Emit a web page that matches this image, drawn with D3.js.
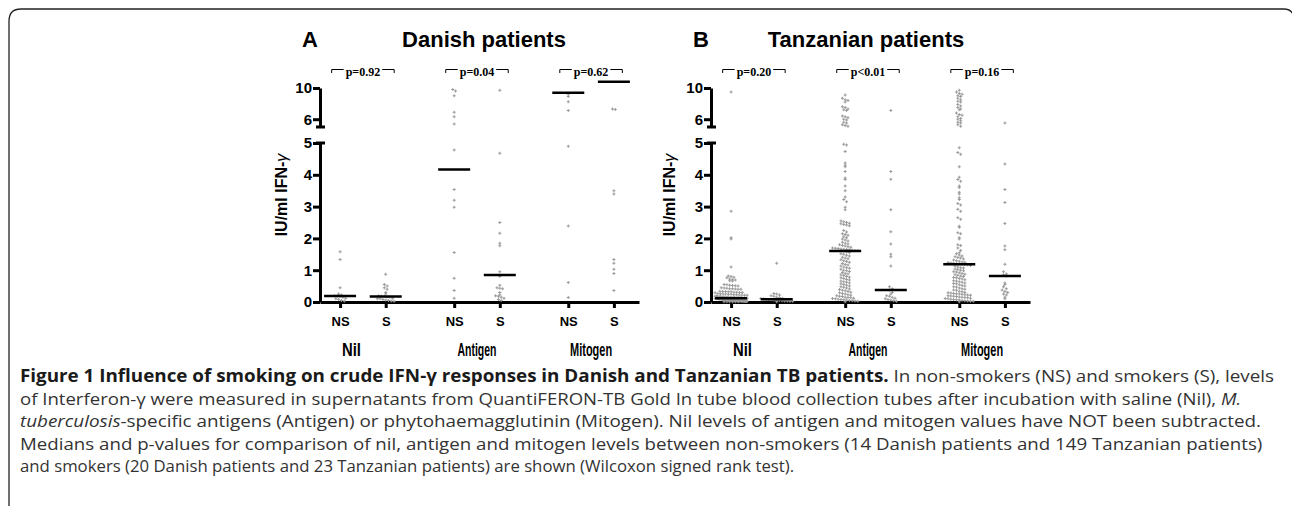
<!DOCTYPE html>
<html>
<head>
<meta charset="utf-8">
<script src="https://cdn.jsdelivr.net/npm/d3@7"></script>
<style>
  body { margin: 0; background: #fff; }
  svg { display: block; }
</style>
</head>
<body>
<svg id="fig" width="1292" height="506"></svg>
<script>
// ---- data ----
const groups = ["Nil", "Antigen", "Mitogen"];
const smokerLabels = ["NS", "S", "NS", "S", "NS", "S"];
const yTicksLow = [0, 1, 2, 3, 4, 5];
const yTicksHigh = [6, 10];
const pValuesDK = ["p=0.92", "p=0.04", "p=0.62"];
const pValuesTZ = ["p=0.20", "p<0.01", "p=0.16"];
const mediansDK = [0.19, 0.17, 4.17, 0.85, 9.4, 10.8];
const mediansTZ = [0.12, 0.09, 1.6, 0.38, 1.19, 0.82];

const dkNilNS = [1.58, 1.34, 0.45, 0.25, 0.22, 0.2, 0.19, 0.17, 0.15, 0.12, 0.1, 0.08, 0.05, 0.03];
const dkNilS = [0.87, 0.55, 0.5, 0.45, 0.4, 0.3, 0.25, 0.2, 0.18, 0.17, 0.16, 0.15, 0.12, 0.1, 0.1, 0.08, 0.06, 0.05, 0.03, 0.02];
const dkAgNS = [9.8, 9.6, 9.0, 6.9, 6.3, 5.4, 4.78, 3.54, 3.2, 2.98, 1.56, 0.75, 0.36, 0.12];
const dkAgS = [9.7, 4.68, 2.5, 2.16, 1.85, 1.77, 0.95, 0.8, 0.53, 0.45, 0.43, 0.42, 0.3, 0.22, 0.2, 0.18, 0.15, 0.12, 0.08, 0.05];
const dkMitNS = [9.2, 8.9, 8.25, 7.1, 4.9, 2.39, 0.61, 0.14];
const dkMitS = [7.3, 7.25, 3.5, 3.4, 1.34, 1.22, 1.03, 0.9, 0.36];

const tzNilNS = [9.5, 2.85, 2.02, 1.98, 1.1, 0.82, 0.8, 0.78, 0.76, 0.72, 0.7, 0.69, 0.67, 0.66,
  0.55, 0.54, 0.53, 0.52, 0.51, 0.5, 0.45, 0.44, 0.43, 0.42, 0.42, 0.41, 0.4, 0.4,
  0.34, 0.33, 0.33, 0.32, 0.32, 0.31, 0.31, 0.3, 0.3, 0.29, 0.26, 0.26, 0.25, 0.25, 0.24, 0.24,
  0.23, 0.23, 0.22, 0.22, 0.21, 0.21, 0.18, 0.18, 0.17, 0.17, 0.17, 0.16, 0.16, 0.16, 0.15, 0.15,
  0.15, 0.14, 0.14, 0.14, 0.14, 0.13, 0.13, 0.13, 0.13, 0.13, 0.12, 0.12, 0.12, 0.12,
  0.11, 0.11, 0.11, 0.11, 0.11, 0.11, 0.11, 0.1, 0.1, 0.1, 0.1, 0.1, 0.1, 0.1,
  0.09, 0.09, 0.09, 0.09, 0.09, 0.09, 0.09, 0.08, 0.08, 0.08, 0.08, 0.08, 0.08, 0.08,
  0.07, 0.07, 0.07, 0.07, 0.07, 0.07, 0.07, 0.06, 0.06, 0.06, 0.06, 0.06, 0.06, 0.06,
  0.05, 0.05, 0.05, 0.05, 0.05, 0.05, 0.05, 0.04, 0.04, 0.04, 0.04, 0.04, 0.04, 0.04,
  0.03, 0.03, 0.03, 0.03, 0.03, 0.03, 0.03, 0.02, 0.02, 0.02, 0.02, 0.02, 0.02,
  0.01, 0.01, 0.01, 0.01, 0.01, 0.01];
const tzNilS = [1.22, 0.27, 0.25, 0.22, 0.2, 0.18, 0.15, 0.13, 0.12, 0.11, 0.1, 0.09, 0.08, 0.07, 0.06, 0.05, 0.05, 0.04, 0.03, 0.03, 0.02, 0.02, 0.01];
const tzAgNS = [9.1, 8.7, 8.5, 8.4, 8.2, 7.6, 7.5, 7.3, 7.2, 7.1, 6.4, 6.3, 6.2, 6.0, 5.9, 5.6, 5.5, 5.3, 5.2, 5.1,
  4.96, 4.94, 4.73, 4.37, 4.3, 4.25, 4.1, 3.9, 3.85, 3.65, 3.5, 3.3, 3.22, 3.15, 2.98, 2.9,
  2.55, 2.52, 2.5, 2.48, 2.46, 2.44, 2.42, 2.4, 2.25, 2.2, 2.15, 2.12, 2.1, 2.05, 2.02,
  1.98, 1.95, 1.92, 1.88, 1.85, 1.82, 1.8, 1.78, 1.76, 1.74, 1.72, 1.7, 1.69, 1.68, 1.67,
  1.66, 1.65, 1.64, 1.63, 1.62, 1.62, 1.61, 1.6,
  1.58, 1.56, 1.52, 1.5, 1.47, 1.45, 1.41, 1.38, 1.36, 1.33, 1.3, 1.27, 1.25, 1.21, 1.18,
  1.16, 1.13, 1.1, 1.08, 1.06, 1.03, 1.0, 0.98, 0.96, 0.93, 0.9, 0.88, 0.86, 0.83, 0.8,
  0.78, 0.76, 0.74, 0.71, 0.69, 0.66, 0.64, 0.62, 0.6, 0.57, 0.55, 0.53, 0.5, 0.48, 0.46,
  0.44, 0.41, 0.39, 0.37, 0.35, 0.33, 0.31, 0.29, 0.27, 0.25, 0.23, 0.21, 0.2, 0.18, 0.17,
  0.15, 0.14, 0.13, 0.12, 0.11, 0.1, 0.09, 0.08, 0.07, 0.06, 0.05, 0.04, 0.03, 0.02, 0.01];
const tzAgS = [7.1, 4.1, 3.86, 2.9, 2.21, 1.82, 1.5, 1.42, 1.13, 0.48, 0.42, 0.38, 0.3, 0.25, 0.2, 0.18, 0.15, 0.12, 0.1, 0.08, 0.06, 0.04, 0.02];
const tzMitNS = [9.7, 9.5, 9.3, 9.2, 9.0, 8.9, 8.7, 8.5, 8.3, 8.2, 7.9, 7.7, 7.5, 7.3, 7.2, 6.8, 6.6,
  6.5, 6.3, 6.1, 6.0, 5.8, 5.6, 5.5, 5.3, 5.1,
  4.85, 4.7, 4.65, 4.25, 3.92, 3.85, 3.8, 3.65, 3.6, 3.45, 3.4, 3.28, 3.22, 3.1, 3.05, 2.92,
  2.85, 2.65, 2.6, 2.38, 2.35, 2.18, 2.15, 2.02, 1.98, 1.8, 1.78, 1.7, 1.62, 1.55, 1.52, 1.48,
  1.45, 1.42, 1.4, 1.38, 1.35, 1.32, 1.3, 1.28, 1.26, 1.25, 1.24, 1.23, 1.22, 1.21, 1.2, 1.19,
  1.18, 1.17, 1.15, 1.13, 1.1, 1.08, 1.07, 1.04, 1.02, 1.0, 0.98, 0.95, 0.94, 0.92, 0.9,
  0.87, 0.86, 0.84, 0.82, 0.8, 0.77, 0.76, 0.74, 0.72, 0.7, 0.67, 0.66, 0.64, 0.62, 0.6,
  0.58, 0.57, 0.54, 0.52, 0.5, 0.48, 0.47, 0.44, 0.42, 0.4, 0.38, 0.37, 0.34, 0.32, 0.3,
  0.29, 0.28, 0.27, 0.26, 0.25, 0.24, 0.23, 0.22, 0.21, 0.2, 0.19, 0.18, 0.17, 0.16, 0.15,
  0.14, 0.13, 0.12, 0.11, 0.1, 0.09, 0.08, 0.07, 0.06, 0.05, 0.04, 0.03, 0.02, 0.02, 0.01];
const tzMitS = [5.5, 4.34, 3.54, 3.13, 2.47, 1.76, 1.64, 1.19, 0.95, 0.88, 0.85, 0.82, 0.6, 0.55, 0.48, 0.42, 0.38, 0.33, 0.3, 0.25, 0.22, 0.15, 0.1];

const captionLines = [
  [["Figure 1 Influence of smoking on crude IFN-γ responses in Danish and Tanzanian TB patients.", "b"], [" In non-smokers (NS) and smokers (S), levels", ""]],
  [["of Interferon-γ were measured in supernatants from QuantiFERON-TB Gold In tube blood collection tubes after incubation with saline (Nil), ", ""], ["M.", "i"]],
  [["tuberculosis", "i"], ["-specific antigens (Antigen) or phytohaemagglutinin (Mitogen). Nil levels of antigen and mitogen values have NOT been subtracted.", ""]],
  [["Medians and p-values for comparison of nil, antigen and mitogen levels between non-smokers (14 Danish patients and 149 Tanzanian patients)", ""]],
  [["and smokers (20 Danish patients and 23 Tanzanian patients) are shown (Wilcoxon signed rank test).", ""]]
];

// ---- drawing ----
const svg = d3.select("#fig");
const sans = "'Liberation Sans', Arial, sans-serif";
const colPos = [0, 1, 2.5, 3.5, 5, 6];
const groupMid = [0.5, 3, 5.5];
const groupLabelAt = [0.25, 3, 5.5];

// frame
svg.append("path")
  .attr("d", "M9,506 V21 Q9,9 21,9 H1284 Q1292,9 1294,17")
  .attr("fill", "none").attr("stroke", "#222").attr("stroke-width", 1.3);

const yLow = d3.scaleLinear().domain([0, 5]).range([302, 143]);
const yHigh = d3.scaleLinear().domain([5, 10]).range([127, 88]);
const yVal = v => (v <= 5 ? yLow(v) : yHigh(v));

function drawPanel(p) {
  const g = svg.append("g");
  const x = d3.scaleLinear().domain([-0.44, 6.55]).range([p.axisX, p.axisX + 319]);

  g.append("text").attr("x", p.letterX).attr("y", 47)
    .attr("font-family", sans).attr("font-weight", "bold").attr("font-size", 22).text(p.letter);
  g.append("text").attr("x", p.titleX).attr("y", 47).attr("text-anchor", "middle")
    .attr("font-family", sans).attr("font-weight", "bold").attr("font-size", 22).text(p.title);

  // y axis (broken)
  const axLow = g.append("g").attr("transform", `translate(${p.axisX},0)`)
    .call(d3.axisLeft(yLow).tickValues(yTicksLow).tickFormat(d3.format("d"))
      .tickSize(7).tickSizeOuter(0).tickPadding(1));
  const axHigh = g.append("g").attr("transform", `translate(${p.axisX},0)`)
    .call(d3.axisLeft(yHigh).tickValues(yTicksHigh).tickFormat(d3.format("d"))
      .tickSize(7).tickSizeOuter(0).tickPadding(1));
  [axLow, axHigh].forEach(ax => {
    ax.selectAll("path, line").attr("stroke", "#000").attr("stroke-width", 3);
    ax.selectAll("text").attr("font-family", sans).attr("font-weight", "bold")
      .attr("font-size", 15).attr("fill", "#000");
  });
  [yLow(5), yHigh(5)].forEach(yy => {
    g.append("line").attr("x1", p.axisX - 4).attr("x2", p.axisX + 5)
      .attr("y1", yy).attr("y2", yy).attr("stroke", "#000").attr("stroke-width", 3);
  });

  g.append("text")
    .attr("transform", `translate(${p.ylabX},195) rotate(-90)`)
    .attr("text-anchor", "middle").attr("font-family", sans).attr("font-weight", "bold")
    .attr("font-size", 16)
    .call(t => {
      t.append("tspan").text("IU/ml IFN-");
      t.append("tspan").attr("font-style", "italic").attr("font-weight", "normal").text("γ");
    });

  // x axis
  const axX = g.append("g").attr("transform", "translate(0,302)")
    .call(d3.axisBottom(x).tickValues(colPos).tickSize(6).tickSizeOuter(0).tickPadding(9)
      .tickFormat((d, i) => smokerLabels[i]));
  axX.selectAll("path, line").attr("stroke", "#000").attr("stroke-width", 3);
  axX.selectAll("text").attr("font-family", sans).attr("font-weight", "bold")
    .attr("font-size", 13).attr("fill", "#000");

  g.selectAll(".grp").data(groups).join("text")
    .attr("x", (d, i) => x(groupLabelAt[i])).attr("y", 356)
    .attr("text-anchor", "middle").attr("font-family", sans).attr("font-weight", "bold")
    .attr("font-size", 18)
    .attr("textLength", d => ({ Nil: 19, Antigen: 39, Mitogen: 42 })[d])
    .attr("lengthAdjust", "spacingAndGlyphs")
    .text(d => d);

  // p-value brackets
  p.pValues.forEach((pv, i) => {
    const cx = x(groupMid[i]);
    const t = g.append("text").attr("x", cx).attr("y", 76).attr("text-anchor", "middle")
      .attr("font-family", "'Liberation Serif', 'Times New Roman', serif")
      .attr("font-weight", "bold").attr("font-size", 12).text(pv);
    const w = t.node().getComputedTextLength();
    const l = cx - w / 2 - 2, r = cx + w / 2 + 2;
    g.append("path")
      .attr("d", `M${l - 12},73V69.5H${l} M${r},69.5H${r + 12}V73`)
      .attr("fill", "none").attr("stroke", "#000").attr("stroke-width", 1);
  });

  // dots (scatter with horizontal spread per row)
  const sym = d3.symbol().type(d3.symbolCross).size(5);
  p.columns.forEach((vals, ci) => {
    const cx = x(colPos[ci]);
    const pts = vals.map(v => ({ v, py: yVal(v) }));
    const rows = d3.group(pts, d => Math.round(d.py / 3));
    rows.forEach(arr => {
      const n = arr.length;
      const step = n > 1 ? Math.min(2.8, 32 / (n - 1)) : 0;
      arr.forEach((d, k) => { d.px = cx + (k - (n - 1) / 2) * step; });
    });
    g.append("g").selectAll("path").data(pts).join("path")
      .attr("d", sym)
      .attr("transform", d => `translate(${d.px},${d.py})`)
      .attr("fill", "#9a9a9a");
  });

  // medians
  g.selectAll(".med").data(p.medians).join("line")
    .attr("x1", (d, i) => x(colPos[i]) - 16).attr("x2", (d, i) => x(colPos[i]) + 16)
    .attr("y1", d => yVal(d)).attr("y2", d => yVal(d))
    .attr("stroke", "#000").attr("stroke-width", 2.5);
}

drawPanel({
  axisX: 320, letter: "A", letterX: 302, title: "Danish patients", titleX: 484, ylabX: 287,
  pValues: pValuesDK, medians: mediansDK,
  columns: [dkNilNS, dkNilS, dkAgNS, dkAgS, dkMitNS, dkMitS]
});
drawPanel({
  axisX: 711, letter: "B", letterX: 693, title: "Tanzanian patients", titleX: 866, ylabX: 675,
  pValues: pValuesTZ, medians: mediansTZ,
  columns: [tzNilNS, tzNilS, tzAgNS, tzAgS, tzMitNS, tzMitS]
});

// caption
const capY = [382, 405, 427, 450, 472];
const capW = [1255, 1222, 1242, 1243, 775];
captionLines.forEach((segs, i) => {
  const t = svg.append("text").attr("font-family", "'Open Sans', sans-serif")
    .attr("font-size", 17).attr("fill", "#333");
  segs.forEach(([txt, st]) => {
    const s = t.append("tspan").text(txt);
    if (st === "b") s.attr("font-weight", "bold").attr("fill", "#1a1a1a");
    if (st === "i") s.attr("font-style", "italic");
  });
  const len = t.node().getComputedTextLength();
  t.attr("transform", `translate(20,${capY[i]}) scale(${capW[i] / len},1)`);
});
</script>
</body>
</html>
